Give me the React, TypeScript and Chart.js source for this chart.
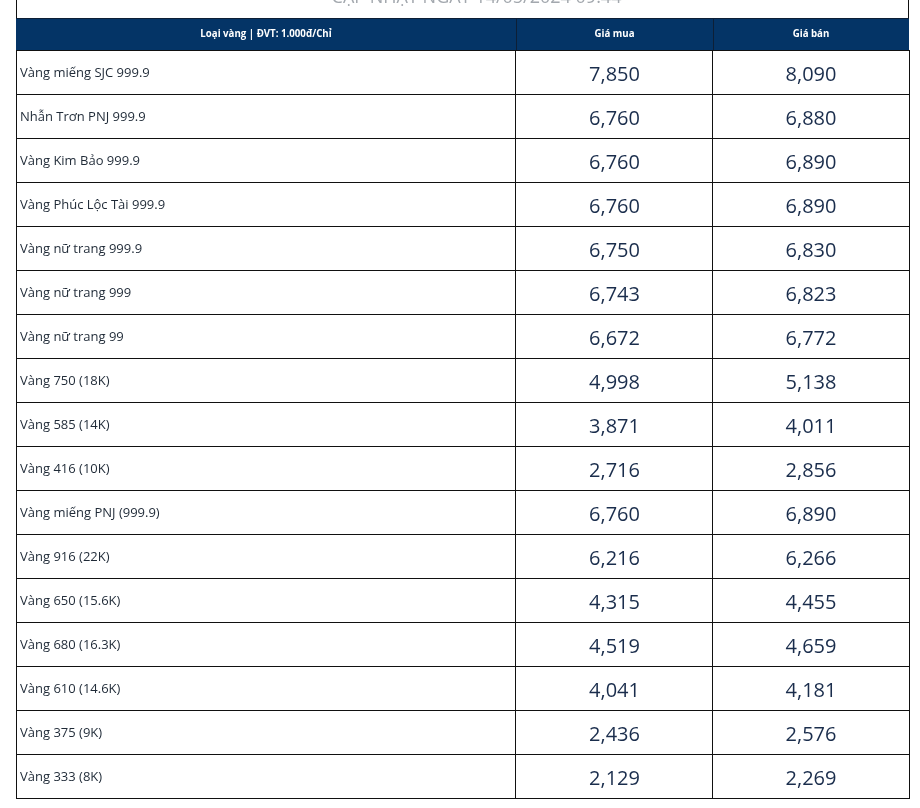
import { useEffect, useRef } from "react";
import { Chart, registerables } from "chart.js";

Chart.register(...registerables);

const TITLE = "CẬP NHẬT NGÀY 14/05/2024 09:44";
const HEADERS = ["Loại vàng | ĐVT: 1.000đ/Chỉ", "Giá mua", "Giá bán"];
const GOLD_TYPES = [
  "Vàng miếng SJC 999.9",
  "Nhẫn Trơn PNJ 999.9",
  "Vàng Kim Bảo 999.9",
  "Vàng Phúc Lộc Tài 999.9",
  "Vàng nữ trang 999.9",
  "Vàng nữ trang 999",
  "Vàng nữ trang 99",
  "Vàng 750 (18K)",
  "Vàng 585 (14K)",
  "Vàng 416 (10K)",
  "Vàng miếng PNJ (999.9)",
  "Vàng 916 (22K)",
  "Vàng 650 (15.6K)",
  "Vàng 680 (16.3K)",
  "Vàng 610 (14.6K)",
  "Vàng 375 (9K)",
  "Vàng 333 (8K)",
];
const BUY_PRICES = [7850, 6760, 6760, 6760, 6750, 6743, 6672, 4998, 3871, 2716, 6760, 6216, 4315, 4519, 4041, 2436, 2129];
const SELL_PRICES = [8090, 6880, 6890, 6890, 6830, 6823, 6772, 5138, 4011, 2856, 6890, 6266, 4455, 4659, 4181, 2576, 2269];

// layout (fractions of table width) for column borders
const COLUMN_EDGES = [0, 0.5599, 0.7805, 1];
const HEADER_H = 32;
const NAVY = "#043466";

const fmt = (v: number) => v.toLocaleString("en-US");

const tablePlugin = {
  id: "tablePlugin",
  beforeDraw(chart: any) {
    const { ctx, chartArea, scales } = chart;
    const xs = scales.x;
    const top = chartArea.top - HEADER_H;
    ctx.save();
    ctx.fillStyle = "#ffffff";
    ctx.fillRect(0, 0, chart.width, chart.height);
    // title (cut at top)
    ctx.fillStyle = "#a3a8ae";
    ctx.font = "18px 'Open Sans'";
    ctx.textAlign = "center";
    ctx.textBaseline = "alphabetic";
    ctx.fillText(TITLE, (chartArea.left + chartArea.right) / 2 + 14, 3);
    // outer frame upper part
    ctx.strokeStyle = "#111";
    ctx.lineWidth = 1;
    ctx.beginPath();
    ctx.moveTo(Math.round(chartArea.left) + 0.5, 0);
    ctx.lineTo(Math.round(chartArea.left) + 0.5, top);
    ctx.moveTo(Math.round(chartArea.right) - 0.5, 0);
    ctx.lineTo(Math.round(chartArea.right) - 0.5, top);
    ctx.stroke();
    // header
    ctx.fillStyle = NAVY;
    ctx.fillRect(chartArea.left, top, chartArea.right - chartArea.left, HEADER_H);
    ctx.strokeStyle = "#0d1f36";
    ctx.beginPath();
    ctx.moveTo(chartArea.left, top + 0.5);
    ctx.lineTo(chartArea.right, top + 0.5);
    for (let i = 1; i < COLUMN_EDGES.length - 1; i++) {
      const x = Math.round(xs.getPixelForValue(COLUMN_EDGES[i])) + 0.5;
      ctx.moveTo(x, top);
      ctx.lineTo(x, chartArea.top);
    }
    ctx.stroke();
    ctx.fillStyle = "#ffffff";
    ctx.font = "bold 11px 'Open Sans'";
    ctx.textBaseline = "middle";
    ctx.textAlign = "center";
    for (let i = 0; i < HEADERS.length; i++) {
      const cx = (xs.getPixelForValue(COLUMN_EDGES[i]) + xs.getPixelForValue(COLUMN_EDGES[i + 1])) / 2;
      ctx.save();
      ctx.translate(cx, top + HEADER_H / 2);
      ctx.scale(0.88, 1);
      ctx.fillText(HEADERS[i], 0, 0);
      ctx.restore();
    }
    ctx.restore();
  },
  afterDatasetsDraw(chart: any) {
    const { ctx } = chart;
    ctx.save();
    ctx.textBaseline = "middle";
    chart.data.datasets.forEach((ds: any, di: number) => {
      const meta = chart.getDatasetMeta(di);
      meta.data.forEach((pt: any, i: number) => {
        if (di === 0) {
          ctx.font = "13px 'Open Sans'";
          ctx.fillStyle = "#1f2a37";
          ctx.textAlign = "left";
          ctx.fillText(GOLD_TYPES[i], pt.x + 4, pt.y + 1.5);
        } else {
          const v = di === 1 ? BUY_PRICES[i] : SELL_PRICES[i];
          ctx.font = "500 20px 'Open Sans'";
          ctx.fillStyle = "#1a2d4c";
          ctx.textAlign = "center";
          ctx.fillText(fmt(v), pt.x, pt.y + 3);
        }
      });
    });
    ctx.restore();
  },
};

export default function App() {
  const ref = useRef<HTMLCanvasElement | null>(null);
  useEffect(() => {
    if (!ref.current) return;
    const mid = (a: number, b: number) => (COLUMN_EDGES[a] + COLUMN_EDGES[b]) / 2;
    const chart = new Chart(ref.current, {
      type: "scatter",
      data: {
        datasets: [
          {
            label: HEADERS[0],
            data: GOLD_TYPES.map((g) => ({ x: COLUMN_EDGES[0], y: g })) as any,
            pointRadius: 0,
          },
          {
            label: HEADERS[1],
            data: GOLD_TYPES.map((g) => ({ x: mid(1, 2), y: g })) as any,
            pointRadius: 0,
          },
          {
            label: HEADERS[2],
            data: GOLD_TYPES.map((g) => ({ x: mid(2, 3), y: g })) as any,
            pointRadius: 0,
          },
        ],
      },
      options: {
        animation: false,
        responsive: true,
        maintainAspectRatio: false,
        layout: { padding: { left: 16, right: 11, top: 18 + HEADER_H, bottom: 10 } },
        plugins: { legend: { display: false }, tooltip: { enabled: false } },
        scales: {
          x: {
            type: "linear",
            min: 0,
            max: 1,
            afterBuildTicks: (axis: any) => {
              axis.ticks = COLUMN_EDGES.map((v) => ({ value: v }));
            },
            ticks: { display: false },
            grid: { color: "#111", lineWidth: 1, drawTicks: false },
            border: { display: true, color: "#111" },
          },
          y: {
            type: "category",
            labels: GOLD_TYPES,
            offset: true,
            ticks: { display: false },
            grid: { offset: true, color: "#111", lineWidth: 1, drawTicks: false },
            border: { display: true, color: "#111" },
          },
        },
      } as any,
      plugins: [tablePlugin],
    });
    return () => chart.destroy();
  }, []);
  return (
    <div style={{ position: "fixed", left: 0, top: 0, width: 920, height: 808, background: "#fff" }}>
      <canvas ref={ref} />
    </div>
  );
}
